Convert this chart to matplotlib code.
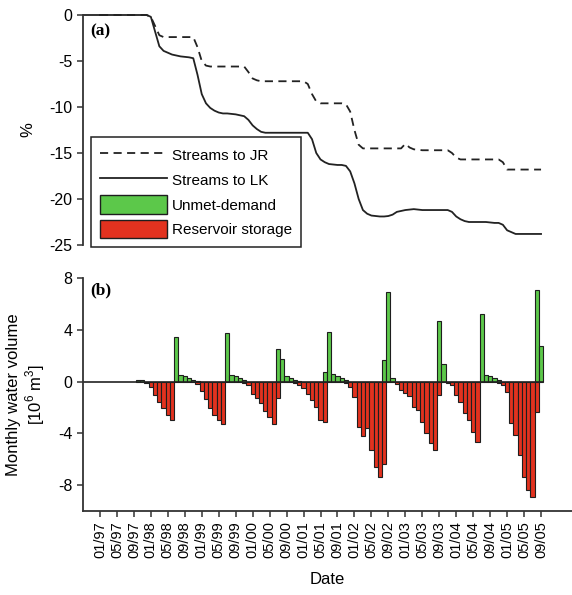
import matplotlib
matplotlib.use("Agg")
import matplotlib.pyplot as plt
import numpy as np
from matplotlib.patches import Patch
from matplotlib.lines import Line2D

plt.rcParams['font.family'] = ['Liberation Sans', 'DejaVu Sans']
plt.rcParams['mathtext.fontset'] = 'custom'
plt.rcParams['mathtext.rm'] = 'Liberation Sans'
plt.rcParams['axes.unicode_minus'] = False

# monthly values, 01/1997 .. 09/2005 (one row per year)
unmet_demand = [
    0, 0, 0, 0, 0, 0, 0, 0, 0, 0.15, 0.12, 0,
    0, 0, 0, 0, 0, 0, 3.45, 0.5, 0.4, 0.3, 0.15, 0.05,
    0, 0, 0, 0, 0, 0, 3.75, 0.5, 0.4, 0.25, 0.1, 0,
    0, 0, 0, 0, 0, 0, 2.55, 1.75, 0.45, 0.3, 0.15, 0.05,
    0, 0, 0, 0, 0, 0.7, 3.85, 0.55, 0.45, 0.3, 0.1, 0,
    0, 0, 0, 0, 0, 0, 0, 1.7, 6.95, 0.3, 0, 0,
    0, 0, 0, 0, 0, 0, 0, 0, 4.65, 1.35, 0, 0,
    0, 0, 0, 0, 0, 0, 5.25, 0.5, 0.45, 0.3, 0.1, 0,
    0, 0, 0, 0, 0, 0, 0, 7.1, 2.75,
]
reservoir_storage = [
    0, 0, 0, 0, 0, 0, 0, 0, 0, 0, 0, -0.1,
    -0.45, -1.0, -1.55, -2.05, -2.55, -3.0, 0, 0, 0, 0, 0, -0.2,
    -0.7, -1.35, -2.05, -2.6, -2.95, -3.3, 0, 0, 0, 0, -0.1, -0.3,
    -0.95, -1.3, -1.65, -2.3, -2.75, -3.3, -1.3, 0, 0, 0, -0.1, -0.25,
    -0.5, -0.95, -1.4, -2.0, -3.0, -3.15, 0, 0, 0, 0, -0.1, -0.45,
    -1.2, -3.5, -4.2, -3.6, -5.3, -6.6, -7.4, -6.35, 0, 0, -0.2, -0.65,
    -0.9, -1.15, -1.95, -2.2, -3.1, -4.0, -4.75, -5.25, -1.0, 0, -0.1, -0.25,
    -1.0, -1.55, -2.45, -2.95, -3.9, -4.65, 0, 0, 0, 0, -0.1, -0.3,
    -0.8, -3.2, -4.1, -5.65, -7.4, -8.4, -8.9, -2.35, 0,
]
streams_lk = [
    0, 0, 0, 0, 0, 0, 0, 0, 0, 0, 0, 0,
    -0.2, -1.8, -3.4, -3.9, -4.1, -4.3, -4.4, -4.5, -4.55, -4.6, -4.7, -6.5,
    -8.6, -9.6, -10.1, -10.4, -10.6, -10.7, -10.7, -10.75, -10.8, -10.9, -11.0, -11.4,
    -12.0, -12.4, -12.7, -12.8, -12.8, -12.8, -12.8, -12.8, -12.8, -12.8, -12.8, -12.8,
    -12.8, -12.8, -13.5, -15.0, -15.7, -16.0, -16.2, -16.25, -16.3, -16.3, -16.4, -17.0,
    -18.3, -20.0, -21.2, -21.6, -21.8, -21.85, -21.9, -21.9, -21.85, -21.7, -21.4, -21.3,
    -21.2, -21.15, -21.1, -21.15, -21.2, -21.2, -21.2, -21.2, -21.2, -21.2, -21.2, -21.4,
    -21.9, -22.2, -22.4, -22.5, -22.5, -22.5, -22.5, -22.5, -22.55, -22.6, -22.6, -22.8,
    -23.4, -23.6, -23.8, -23.8, -23.8, -23.8, -23.8, -23.8, -23.8,
]
streams_jr = [
    0, 0, 0, 0, 0, 0, 0, 0, 0, 0, 0, 0,
    -0.2, -1.2, -2.2, -2.4, -2.4, -2.4, -2.4, -2.4, -2.4, -2.4, -2.4, -3.5,
    -5.0, -5.5, -5.6, -5.6, -5.6, -5.6, -5.6, -5.6, -5.6, -5.6, -5.6, -6.2,
    -6.9, -7.1, -7.2, -7.2, -7.2, -7.2, -7.2, -7.2, -7.2, -7.2, -7.2, -7.2,
    -7.2, -7.5, -8.6, -9.4, -9.6, -9.6, -9.6, -9.6, -9.6, -9.6, -9.7, -10.5,
    -12.5, -14.1, -14.5, -14.5, -14.5, -14.5, -14.5, -14.5, -14.5, -14.5, -14.5, -14.5,
    -14.0, -14.4, -14.6, -14.65, -14.7, -14.7, -14.7, -14.7, -14.7, -14.7, -14.7, -15.0,
    -15.5, -15.7, -15.7, -15.7, -15.7, -15.7, -15.7, -15.7, -15.7, -15.7, -15.7, -16.0,
    -16.8, -16.8, -16.8, -16.8, -16.8, -16.8, -16.8, -16.8, -16.8,
]
date_labels = [
    '01/97', '05/97', '09/97', '01/98', '05/98', '09/98', '01/99', '05/99', '09/99',
    '01/00', '05/00', '09/00', '01/01', '05/01', '09/01', '01/02', '05/02', '09/02',
    '01/03', '05/03', '09/03', '01/04', '05/04', '09/04', '01/05', '05/05', '09/05',
]

months = np.arange(len(unmet_demand))
unmet = np.array(unmet_demand)
storage = np.array(reservoir_storage)

GREEN = '#5cc84a'
RED = '#e2321f'
EDGE = '#1e1e1e'
LINE = '#222222'
XLIM = (-4, 111.3)

fig = plt.figure(figsize=(5.72, 5.95), dpi=100)
ax1 = fig.add_axes([83 / 572, 350 / 595, 489 / 572, 230 / 595])
ax2 = fig.add_axes([83 / 572, 84 / 595, 489 / 572, 233 / 595])

# (a) cumulative change of streamflow
ax1.hlines(0, XLIM[0], months[0], color=LINE, lw=1.3, clip_on=False)
ax1.plot(months, streams_jr, color=LINE, lw=1.3, ls=(0, (4.5, 3)), clip_on=False)
ax1.plot(months, streams_lk, color=LINE, lw=1.3, clip_on=False)
ax1.set_xlim(*XLIM)
ax1.set_ylim(-25, 0)
ax1.set_yticks([0, -5, -10, -15, -20, -25])
ax1.set_xticks([])
for s in ['top', 'right', 'bottom']:
    ax1.spines[s].set_visible(False)
ax1.set_ylabel('%', fontsize=12)
ax1.yaxis.set_label_coords(-0.097, 0.5)
ax1.text(0.014, 0.93, '(a)', transform=ax1.transAxes, fontsize=12.5,
         fontweight='bold', family='Liberation Serif', va='center')

handles = [
    Line2D([], [], color=LINE, lw=1.3, ls=(0, (4.5, 3))),
    Line2D([], [], color=LINE, lw=1.3),
    Patch(facecolor=GREEN, edgecolor=EDGE, lw=1),
    Patch(facecolor=RED, edgecolor=EDGE, lw=1),
]
leg = ax1.legend(handles, ['Streams to JR', 'Streams to LK', 'Unmet-demand', 'Reservoir storage'],
                 loc='lower left', bbox_to_anchor=(0.016, -0.01), borderaxespad=0,
                 fontsize=11, handlelength=4.4, handleheight=1.45, labelspacing=0.42,
                 handletextpad=0.3, borderpad=0.6, fancybox=False, framealpha=1)
leg.get_frame().set_edgecolor(LINE)
leg.get_frame().set_linewidth(1.1)

# (b) monthly water volume
pos = unmet != 0
neg = storage != 0
ax2.bar(months[pos], unmet[pos], width=1.0, color=GREEN, edgecolor=EDGE, lw=0.8)
ax2.bar(months[neg], storage[neg], width=1.0, color=RED, edgecolor=EDGE, lw=0.8)
ax2.hlines(0, XLIM[0], months[-1] + 0.5, color=LINE, lw=1.2)
ax2.set_xlim(*XLIM)
ax2.set_ylim(-10, 8)
ax2.set_yticks([8, 4, 0, -4, -8])
ax2.set_xticks(months[::4])
ax2.set_xticklabels(date_labels, rotation=90, fontsize=10.5)
for s in ['top', 'right']:
    ax2.spines[s].set_visible(False)
ax2.set_ylabel('Monthly water volume\n[10$^{\\mathregular{6}}$ m$^{\\mathregular{3}}$]',
               fontsize=12, linespacing=1.1)
ax2.yaxis.set_label_coords(-0.074, 0.5)
ax2.set_xlabel('Date', fontsize=12, labelpad=10)
ax2.text(0.014, 0.945, '(b)', transform=ax2.transAxes, fontsize=12.5,
         fontweight='bold', family='Liberation Serif', va='center')

for ax in (ax1, ax2):
    ax.tick_params(direction='out', length=4, width=1.1, labelsize=11.5, color='#333333')
    ax.spines['left'].set_linewidth(1.3)
    ax.spines['left'].set_color('#333333')
ax2.spines['bottom'].set_linewidth(1.3)
ax2.spines['bottom'].set_color('#333333')
ax2.tick_params(axis='x', labelsize=10.5)

fig.savefig('out.png', dpi=100)
